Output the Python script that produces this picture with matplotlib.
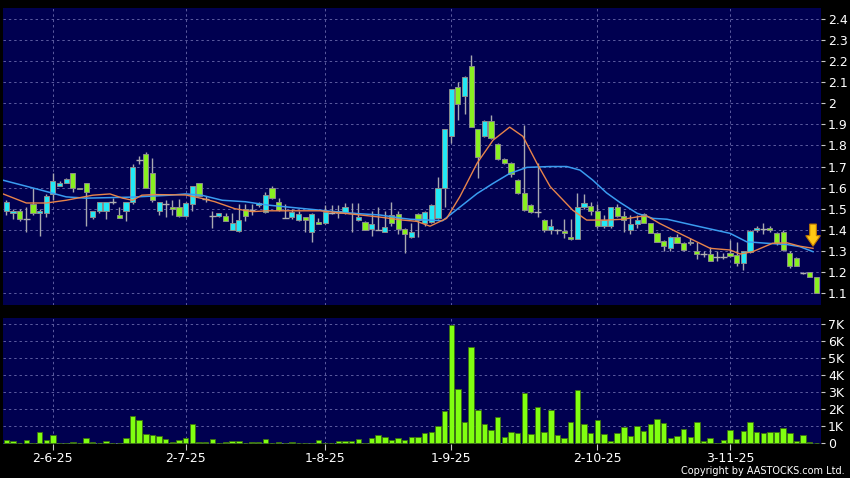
import matplotlib
matplotlib.use("Agg")
import matplotlib.pyplot as plt
from matplotlib.patches import FancyArrow
from matplotlib.ticker import FuncFormatter, MultipleLocator
import numpy as np

# daily candles, oldest first (price)
opens = [1.49, 1.48, 1.49, 1.45, 1.52, 1.48, 1.48, 1.57, 1.61, 1.62,
         1.67, 1.60, 1.62, 1.46, 1.49, 1.49, 1.53, 1.47, 1.49, 1.53,
         1.73, 1.76, 1.67, 1.49, 1.52, 1.51, 1.51, 1.465, 1.52, 1.62,
         1.545, 1.465, 1.465, 1.465, 1.40, 1.395, 1.50, 1.493, 1.517, 1.485,
         1.60, 1.53, 1.455, 1.462, 1.446, 1.46, 1.39, 1.438, 1.43, 1.479,
         1.479, 1.479, 1.48, 1.446, 1.436, 1.403, 1.398, 1.39, 1.47, 1.474,
         1.403, 1.365, 1.474, 1.432, 1.438, 1.455, 1.598, 1.843, 2.076, 2.035,
         2.176, 1.877, 1.844, 1.915, 1.806, 1.735, 1.716, 1.635, 1.574, 1.517,
         1.484, 1.446, 1.40, 1.399, 1.394, 1.364, 1.354, 1.506, 1.515, 1.49,
         1.417, 1.417, 1.506, 1.463, 1.40, 1.427, 1.474, 1.43, 1.384, 1.346,
         1.312, 1.364, 1.336, 1.336, 1.30, 1.285, 1.285, 1.27, 1.27, 1.29,
         1.28, 1.244, 1.296, 1.40, 1.405, 1.41, 1.383, 1.39, 1.29, 1.264,
         1.193, 1.20, 1.174]
highs = [1.54, 1.50, 1.50, 1.51, 1.60, 1.50, 1.57, 1.67, 1.63, 1.645,
         1.67, 1.60, 1.62, 1.49, 1.53, 1.53, 1.55, 1.51, 1.53, 1.71,
         1.75, 1.77, 1.74, 1.53, 1.54, 1.54, 1.545, 1.53, 1.61, 1.62,
         1.56, 1.49, 1.48, 1.48, 1.48, 1.52, 1.52, 1.52, 1.53, 1.58,
         1.61, 1.55, 1.52, 1.50, 1.49, 1.46, 1.48, 1.454, 1.517, 1.517,
         1.517, 1.527, 1.527, 1.527, 1.44, 1.49, 1.51, 1.49, 1.53, 1.49,
         1.41, 1.43, 1.48, 1.49, 1.52, 1.65, 1.88, 2.07, 2.10, 2.13,
         2.23, 1.88, 1.92, 1.943, 1.81, 1.74, 1.72, 1.64, 1.896, 1.52,
         1.716, 1.45, 1.45, 1.403, 1.45, 1.45, 1.576, 1.57, 1.53, 1.52,
         1.47, 1.51, 1.52, 1.49, 1.47, 1.47, 1.48, 1.43, 1.39, 1.35,
         1.37, 1.38, 1.34, 1.36, 1.34, 1.30, 1.32, 1.30, 1.29, 1.35,
         1.34, 1.30, 1.40, 1.42, 1.43, 1.42, 1.39, 1.40, 1.30, 1.27,
         1.20, 1.20, 1.175]
lows = [1.47, 1.45, 1.44, 1.39, 1.47, 1.37, 1.46, 1.54, 1.61, 1.62,
        1.58, 1.595, 1.42, 1.45, 1.48, 1.45, 1.52, 1.455, 1.44, 1.52,
        1.71, 1.60, 1.53, 1.47, 1.46, 1.47, 1.46, 1.46, 1.49, 1.56,
        1.53, 1.41, 1.46, 1.44, 1.40, 1.39, 1.44, 1.47, 1.51, 1.48,
        1.545, 1.49, 1.455, 1.45, 1.44, 1.39, 1.34, 1.427, 1.425, 1.475,
        1.455, 1.475, 1.39, 1.44, 1.398, 1.37, 1.398, 1.39, 1.42, 1.38,
        1.29, 1.36, 1.367, 1.42, 1.43, 1.45, 1.51, 1.81, 1.92, 1.95,
        1.888, 1.645, 1.84, 1.83, 1.73, 1.71, 1.65, 1.57, 1.49, 1.48,
        1.46, 1.39, 1.38, 1.38, 1.36, 1.35, 1.354, 1.50, 1.47, 1.41,
        1.41, 1.41, 1.46, 1.39, 1.38, 1.41, 1.43, 1.386, 1.343, 1.30,
        1.30, 1.336, 1.30, 1.33, 1.26, 1.27, 1.25, 1.25, 1.26, 1.27,
        1.23, 1.21, 1.29, 1.39, 1.38, 1.39, 1.33, 1.30, 1.22, 1.228,
        1.19, 1.177, 1.098]
closes = [1.53, 1.49, 1.45, 1.45, 1.48, 1.49, 1.56, 1.63, 1.62, 1.64,
          1.60, 1.595, 1.58, 1.49, 1.53, 1.53, 1.53, 1.455, 1.53, 1.70,
          1.73, 1.60, 1.54, 1.53, 1.52, 1.50, 1.465, 1.525, 1.61, 1.56,
          1.545, 1.465, 1.478, 1.443, 1.43, 1.445, 1.465, 1.493, 1.528, 1.565,
          1.55, 1.495, 1.455, 1.484, 1.474, 1.446, 1.475, 1.427, 1.485, 1.479,
          1.49, 1.507, 1.48, 1.46, 1.398, 1.427, 1.398, 1.415, 1.433, 1.403,
          1.38, 1.39, 1.446, 1.484, 1.517, 1.598, 1.877, 2.067, 1.996, 2.124,
          1.888, 1.744, 1.915, 1.835, 1.735, 1.716, 1.664, 1.575, 1.493, 1.484,
          1.484, 1.398, 1.417, 1.399, 1.383, 1.354, 1.506, 1.525, 1.49, 1.417,
          1.444, 1.506, 1.465, 1.446, 1.427, 1.446, 1.43, 1.386, 1.343, 1.324,
          1.364, 1.336, 1.304, 1.343, 1.285, 1.285, 1.25, 1.27, 1.27, 1.275,
          1.244, 1.30, 1.396, 1.41, 1.405, 1.40, 1.336, 1.304, 1.228, 1.228,
          1.193, 1.177, 1.098]

# volume in thousands of shares
volume = [0.20, 0.12, 0.02, 0.18, 0.02, 0.67, 0.20, 0.47, 0.0, 0.0,
          0.06, 0.0, 0.33, 0.06, 0.03, 0.14, 0.04, 0.01, 0.33, 1.60,
          1.35, 0.53, 0.49, 0.43, 0.24, 0.08, 0.20, 0.29, 1.12, 0.06,
          0.10, 0.24, 0.01, 0.06, 0.12, 0.12, 0.02, 0.06, 0.06, 0.24,
          0.01, 0.06, 0.01, 0.08, 0.02, 0.0, 0.04, 0.20, 0.0, 0.0,
          0.14, 0.12, 0.12, 0.27, 0.0, 0.29, 0.47, 0.35, 0.20, 0.31,
          0.22, 0.35, 0.37, 0.63, 0.67, 1.02, 1.88, 6.96, 3.18, 1.24,
          5.65, 1.96, 1.14, 0.78, 1.57, 0.39, 0.65, 0.61, 2.96, 0.53,
          2.12, 0.67, 1.96, 0.49, 0.33, 1.24, 3.12, 1.12, 0.61, 1.35,
          0.53, 0.12, 0.63, 0.94, 0.41, 1.02, 0.73, 1.14, 1.41, 1.20,
          0.33, 0.43, 0.84, 0.37, 1.24, 0.14, 0.31, 0.02, 0.20, 0.78,
          0.27, 0.75, 1.25, 0.69, 0.63, 0.69, 0.67, 0.92, 0.59, 0.14,
          0.47, 0.08, 0.0]

# moving averages (bar position, value)
ma_short_pos = [-0.5, 3, 6, 9, 13, 15.6, 17.5, 19, 20.4, 22.4, 27, 29.4, 31.4, 34.4,
                37, 39.4, 47.2, 52.2, 56.3, 59.7, 61.8, 63.8, 66.3, 68.3, 70.9,
                73.3, 75.8, 77.8, 79.9, 81.9, 85.3, 87.4, 90.4, 92.9, 95.4, 96.5,
                98.4, 101.9, 106, 109, 110.5, 112.4, 115.4, 117.6, 119.5, 121.5]
ma_short = [1.57, 1.527, 1.527, 1.54, 1.564, 1.57, 1.55, 1.54, 1.564, 1.567, 1.565,
            1.549, 1.533, 1.50, 1.486, 1.49, 1.49, 1.474, 1.46, 1.446, 1.44, 1.417,
            1.454, 1.557, 1.716, 1.825, 1.887, 1.843, 1.716, 1.605, 1.493, 1.446,
            1.446, 1.45, 1.463, 1.465, 1.43, 1.375, 1.312, 1.304, 1.285, 1.296,
            1.336, 1.338, 1.322, 1.312]
ma_long_pos = [-0.5, 5, 9, 12, 19, 24.6, 27, 29.4, 32.5, 36, 39.4, 47.2, 52.2, 56.3,
               59.7, 60.8, 65.7, 67.2, 70.9, 73.3, 75.8, 78.4, 81.9, 84.4, 86.4,
               88.3, 90.4, 92.4, 95, 97.4, 99.5, 104.4, 109, 111.5, 114.5, 117.6,
               119.5, 121.5]
ma_long = [1.635, 1.59, 1.556, 1.55, 1.555, 1.564, 1.57, 1.564, 1.54, 1.533, 1.517,
           1.493, 1.478, 1.47, 1.454, 1.45, 1.443, 1.48, 1.572, 1.62, 1.667, 1.696,
           1.70, 1.70, 1.683, 1.636, 1.575, 1.53, 1.478, 1.454, 1.45, 1.415, 1.383,
           1.343, 1.336, 1.33, 1.32, 1.296]

tick_pos = [7, 27, 48, 67, 89, 109]
tick_labels = ['2-6-25', '2-7-25', '1-8-25', '1-9-25', '2-10-25', '3-11-25']

BG = '#000050'
GRID = '#5c5ca0'
UP = '#22e8f5'
DOWN = '#88f020'

fig = plt.figure(figsize=(8.5, 4.78), dpi=100, facecolor='black')
ax = fig.add_axes([0.0035, 0.3619, 0.9624, 0.6213], facecolor=BG)
axv = fig.add_axes([0.0035, 0.0711, 0.9624, 0.2636], facecolor=BG, sharex=ax)

x = np.arange(len(closes))
o = np.array(opens)
c = np.array(closes)
up = c >= o
body_lo = np.minimum(o, c)
body_h = np.abs(c - o)

# wicks then bodies
ax.vlines(x, lows, highs, color='#a8a8b0', lw=1, zorder=2)
solid = body_h >= 0.004
ax.bar(x[solid], body_h[solid], bottom=body_lo[solid], width=0.78,
       color=np.where(up, UP, DOWN)[solid], edgecolor='#8c8c8c', linewidth=0.7, zorder=3)
ax.hlines(c[~solid], x[~solid] - 0.5, x[~solid] + 0.5, color='#b0b0b0', lw=1, zorder=3)

ax.plot(ma_long_pos, ma_long, color='#3a9cf0', lw=1.1, zorder=4)
ax.plot(ma_short_pos, ma_short, color='#e8844a', lw=1.0, zorder=5)

# yellow marker arrow above last average value
arr = FancyArrow(ma_short_pos[-1], ma_short[-1] + 0.115, 0, -0.105, width=1.0,
                 head_width=2.2, head_length=0.05, length_includes_head=True,
                 facecolor='#ffc814', edgecolor='#c07800', lw=0.8, zorder=6)
ax.add_patch(arr)

axv.bar(x, volume, width=0.82, color='#80ff10', edgecolor='#3c7010', linewidth=0.6, zorder=3)

for a in (ax, axv):
    a.set_xlim(-0.52, 122.7)
    for s in a.spines.values():
        s.set_visible(False)
    a.yaxis.tick_right()
    a.tick_params(axis='y', colors='#c8c8c8', labelcolor='white', length=3,
                  labelsize=9, pad=2)
    a.grid(True, color=GRID, linestyle=(0, (2.5, 3)), lw=0.7, zorder=0)
    a.set_axisbelow(True)
    a.set_xticks(tick_pos)

ax.set_ylim(1.043, 2.452)
ax.yaxis.set_major_locator(MultipleLocator(0.1))
ax.yaxis.set_major_formatter(FuncFormatter(lambda v, p: '%g' % round(v, 1)))
ax.tick_params(axis='x', length=0, labelbottom=False)

axv.set_ylim(-0.04, 7.38)
axv.yaxis.set_major_locator(MultipleLocator(1))
axv.yaxis.set_major_formatter(FuncFormatter(lambda v, p: '0' if v < 0.5 else '%dK' % round(v)))
axv.set_xticklabels(tick_labels)
axv.tick_params(axis='x', colors='#c8c8c8', labelcolor='white', length=4,
                labelsize=9, pad=2)

fig.text(0.994, 0.008, 'Copyright by AASTOCKS.com Ltd.', color='white',
         fontsize=7, ha='right', va='baseline')

fig.savefig('out.png', dpi=100, facecolor='black')
